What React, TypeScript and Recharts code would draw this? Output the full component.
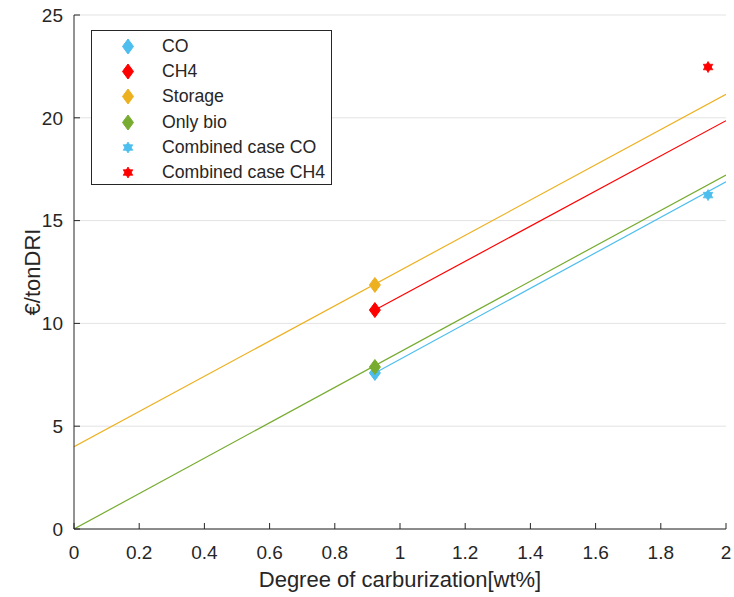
import React from 'react';
import {
  ComposedChart,
  Line,
  Scatter,
  XAxis,
  YAxis,
  CartesianGrid,
  Legend,
} from 'recharts';

// carburization degree [wt%] and cost [€/tonDRI]
const fullRangeX = [0, 2];
const storageFit = [4.0, 21.14];
const onlyBioFit = [0, 17.22];
const gasRangeX = [0.923, 2];
const ch4Fit = [10.65, 19.86];
const coFit = [7.59, 16.89];

const caseX = [0.923];
const coCase = [7.59];
const ch4Case = [10.65];
const storageCase = [11.87];
const onlyBioCase = [7.88];

const combinedX = [1.945];
const combinedCO = [16.24];
const combinedCH4 = [22.47];

const xTicks = [0, 0.2, 0.4, 0.6, 0.8, 1, 1.2, 1.4, 1.6, 1.8, 2];
const yTicks = [0, 5, 10, 15, 20, 25];

const BLUE = '#4DBEEE';
const RED = '#FF0000';
const ORANGE = '#EDB120';
const GREEN = '#77AC30';
const AXIS = '#262626';
const FONT = '"Liberation Sans", Arial, Helvetica, sans-serif';

const toPoints = (xs: number[], ys: number[]) => xs.map((x, i) => ({ x, y: ys[i] }));

const X_GAP = 17;
const Y_GAP = 11;
const TICK_LEN = 6;

const Diamond = ({ cx, cy, fill }: any) => (
  <path
    d={`M${cx},${cy - 7.5} L${cx + 5.5},${cy} L${cx},${cy + 7.5} L${cx - 5.5},${cy} Z`}
    fill={fill}
    stroke={fill}
    strokeWidth={1}
  />
);

const Hexagram = ({ cx, cy, fill }: any) => {
  const r = 5.5;
  const tri = (rot: number) =>
    [0, 1, 2]
      .map((k) => {
        const a = rot + (k * 2 * Math.PI) / 3;
        return `${cx + r * Math.sin(a)},${cy - r * Math.cos(a)}`;
      })
      .join(' ');
  return (
    <g fill={fill} stroke={fill} strokeWidth={0.8}>
      <polygon points={tri(0)} />
      <polygon points={tri(Math.PI)} />
    </g>
  );
};

const XTick = ({ x, y, payload }: any) => (
  <g>
    <line x1={x} x2={x} y1={y - X_GAP} y2={y - X_GAP - TICK_LEN} stroke={AXIS} />
    <text x={x} y={y} dy="0.71em" textAnchor="middle" fill={AXIS} fontSize={19} fontFamily={FONT}>
      {payload.value}
    </text>
  </g>
);

const YTick = ({ x, y, payload }: any) => (
  <g>
    <line x1={x + Y_GAP} x2={x + Y_GAP + TICK_LEN} y1={y} y2={y} stroke={AXIS} />
    <text x={x} y={y} dy="0.36em" textAnchor="end" fill={AXIS} fontSize={19} fontFamily={FONT}>
      {payload.value}
    </text>
  </g>
);

const legendItems = [
  { label: 'CO', color: BLUE, shape: 'diamond' },
  { label: 'CH4', color: RED, shape: 'diamond' },
  { label: 'Storage', color: ORANGE, shape: 'diamond' },
  { label: 'Only bio', color: GREEN, shape: 'diamond' },
  { label: 'Combined case CO', color: BLUE, shape: 'star' },
  { label: 'Combined case CH4', color: RED, shape: 'star' },
];

const LegendBox = () => (
  <div
    style={{
      width: 239,
      height: 150,
      border: `1px solid ${AXIS}`,
      background: '#fff',
      paddingTop: 3,
      boxSizing: 'content-box',
      fontFamily: FONT,
      fontSize: 17.7,
      color: AXIS,
    }}
  >
    {legendItems.map((item) => (
      <div key={item.label} style={{ height: 25.2, display: 'flex', alignItems: 'center' }}>
        <svg width={70} height={25} style={{ flex: 'none' }}>
          {item.shape === 'diamond' ? (
            <Diamond cx={36} cy={12.5} fill={item.color} />
          ) : (
            <Hexagram cx={36} cy={12.5} fill={item.color} />
          )}
        </svg>
        <span>{item.label}</span>
      </div>
    ))}
  </div>
);

export default function App() {
  return (
    <div style={{ position: 'absolute', left: 0, top: 0, width: 734, height: 597, background: '#fff' }}>
      <ComposedChart width={734} height={597} margin={{ top: 15, right: 8, bottom: 0, left: 0 }}>
        <CartesianGrid vertical={false} stroke="#e3e3e3" horizontalValues={yTicks} />
        <XAxis
          type="number"
          dataKey="x"
          domain={[0, 2]}
          ticks={xTicks}
          interval={0}
          allowDataOverflow
          height={68}
          tickSize={0}
          tickMargin={X_GAP}
          tickLine={false}
          axisLine={{ stroke: AXIS }}
          tick={<XTick />}
          label={{
            value: 'Degree of carburization[wt%]',
            position: 'insideBottom',
            offset: 10,
            fill: AXIS,
            fontSize: 22,
            fontFamily: FONT,
          }}
        />
        <YAxis
          type="number"
          dataKey="y"
          domain={[0, 25]}
          ticks={yTicks}
          interval={0}
          allowDataOverflow
          width={74}
          tickSize={0}
          tickMargin={Y_GAP}
          tickLine={false}
          axisLine={{ stroke: AXIS }}
          tick={<YTick />}
          label={{
            value: '€/tonDRI',
            angle: -90,
            position: 'insideLeft',
            offset: 32,
            fill: AXIS,
            fontSize: 22,
            fontFamily: FONT,
            style: { textAnchor: 'middle' },
          }}
        />
        <Legend
          layout="vertical"
          align="center"
          verticalAlign="middle"
          wrapperStyle={{ left: 91, top: 30, width: 241, height: 154 }}
          content={() => <LegendBox />}
        />
        <Line data={toPoints(fullRangeX, storageFit)} dataKey="y" stroke={ORANGE} strokeWidth={1.2} dot={false} activeDot={false} isAnimationActive={false} />
        <Line data={toPoints(gasRangeX, ch4Fit)} dataKey="y" stroke={RED} strokeWidth={1.2} dot={false} activeDot={false} isAnimationActive={false} />
        <Line data={toPoints(fullRangeX, onlyBioFit)} dataKey="y" stroke={GREEN} strokeWidth={1.2} dot={false} activeDot={false} isAnimationActive={false} />
        <Line data={toPoints(gasRangeX, coFit)} dataKey="y" stroke={BLUE} strokeWidth={1.2} dot={false} activeDot={false} isAnimationActive={false} />
        <Scatter data={toPoints(caseX, coCase)} dataKey="y" fill={BLUE} shape={<Diamond />} isAnimationActive={false} />
        <Scatter data={toPoints(caseX, ch4Case)} dataKey="y" fill={RED} shape={<Diamond />} isAnimationActive={false} />
        <Scatter data={toPoints(caseX, storageCase)} dataKey="y" fill={ORANGE} shape={<Diamond />} isAnimationActive={false} />
        <Scatter data={toPoints(caseX, onlyBioCase)} dataKey="y" fill={GREEN} shape={<Diamond />} isAnimationActive={false} />
        <Scatter data={toPoints(combinedX, combinedCO)} dataKey="y" fill={BLUE} shape={<Hexagram />} isAnimationActive={false} />
        <Scatter data={toPoints(combinedX, combinedCH4)} dataKey="y" fill={RED} shape={<Hexagram />} isAnimationActive={false} />
      </ComposedChart>
    </div>
  );
}
